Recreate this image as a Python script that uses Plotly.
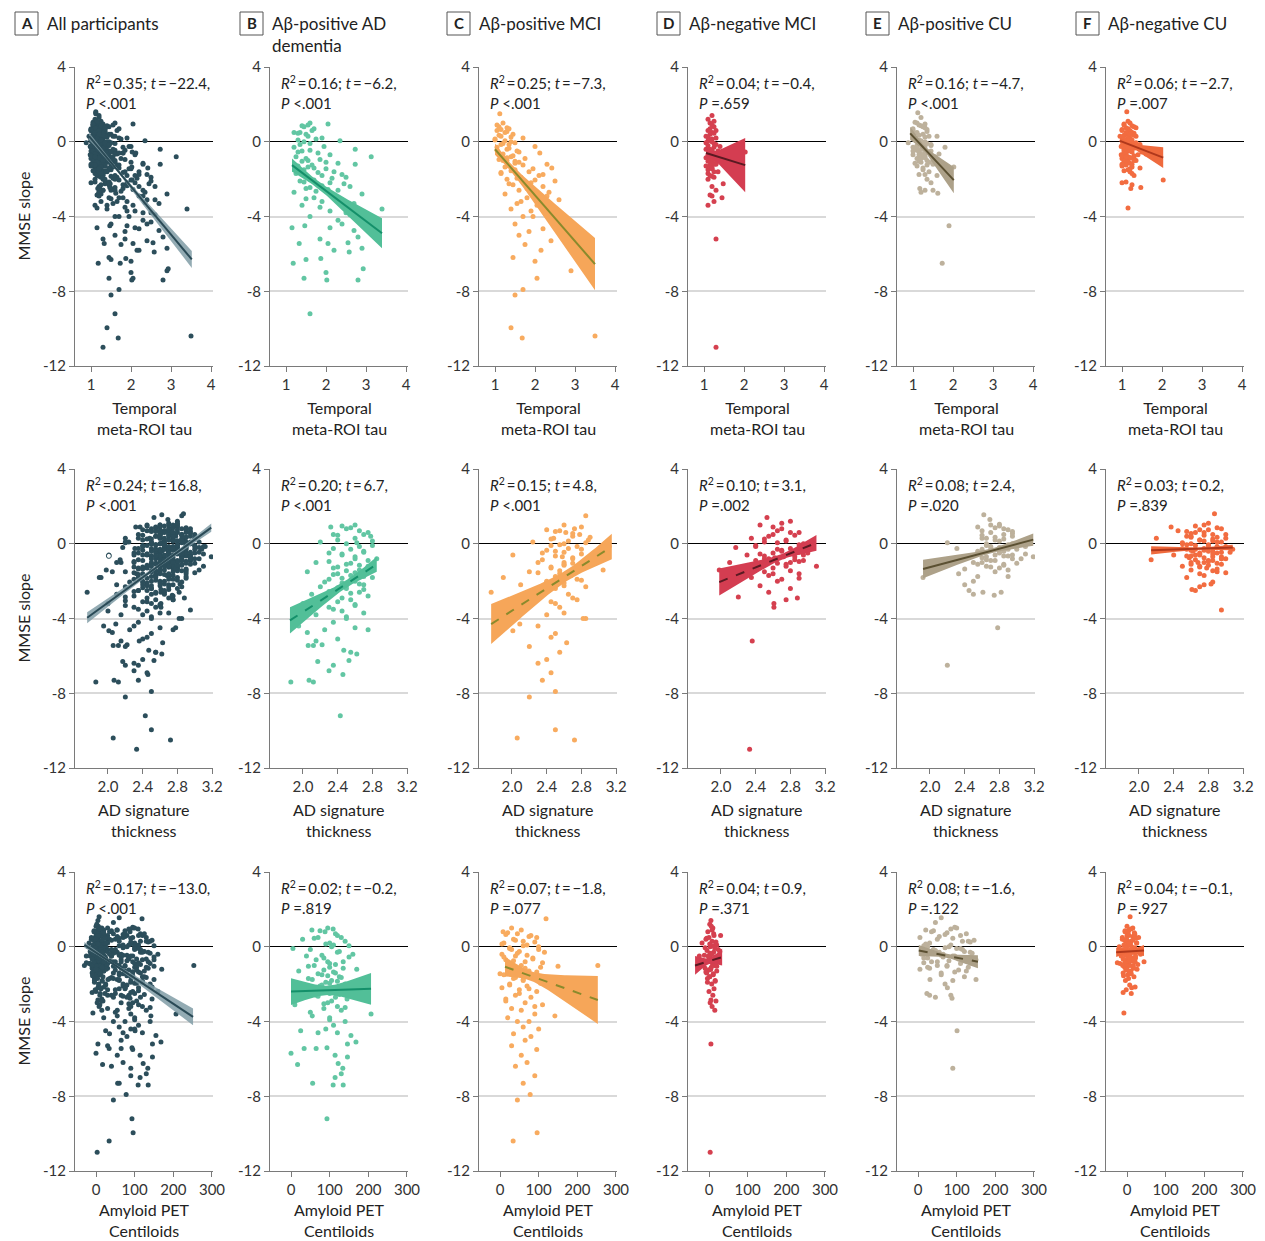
import math
import plotly.graph_objects as go

# ------------------------------------------------------------------ data
# Each group: MMSE slope (y, shared by all three rows), temporal meta-ROI tau,
# AD signature thickness, amyloid PET centiloids (None = not shown)

B_MMSE = [1.0, 0.95, 0.9, 0.8, 0.7, 0.5, 0.5, 0.4, 0.2, 0.05,
          0.1, -0.1, -0.3, -0.4, -0.5, -0.6, -0.8, -0.8, -1.0, -1.1,
          -1.2, -1.3, -1.4, -1.5, -1.6, -1.7, -1.8, -1.9, -2.0, -2.1,
          -2.2, -2.3, -2.4, -2.5, -2.6, -2.7, -2.8, -3.0, -3.1, -3.2,
          -3.3, -3.4, -3.6, -3.7, -3.8, -4.0, -4.2, -4.4, -4.5, -4.6,
          -4.6, -4.75, -5.1, -5.2, -5.4, -5.45, -5.45, -5.7, -5.8, -5.9,
          -6.25, -6.3, -6.5, -6.8, -7.0, -7.3, -7.4, -7.4, -9.2,
          0.85, 0.6, 0.45, 0.3, 0.15, 0.0, -0.15, -0.25, -0.45, -0.55,
          -0.7, -0.9, -0.95, -1.05, -1.15, -1.25, -1.35, -1.45, -1.55, -1.65,
          -1.75, -1.85, -1.95, -2.05, -2.15, -2.25, -2.35, -2.45, -2.55, -2.65,
          -2.9, -3.05, -3.25, -3.5, -3.9]
B_TAU = [1.6, 2.05, 1.55, 1.45, 1.7, 1.2, 1.35, 1.5, 1.9, 2.35,
         1.3, 1.6, 1.2, 2.73, 1.4, 1.8, 3.13, 1.25, 1.55, 2.0,
         2.73, 1.3, 1.7, 1.45, 2.2, 1.25, 1.9, 2.5, 1.6, 1.35,
         2.1, 1.8, 2.6, 1.5, 2.3, 1.2, 2.9, 1.7, 2.4, 1.9,
         2.7, 1.4, 3.4, 2.1, 2.5, 1.6, 2.3, 2.4, 1.47, 2.1,
         1.15, 2.7, 2.8, 1.85, 2.55, 1.33, 2.05, 2.9, 2.2, 2.58,
         1.87, 1.5, 1.18, 2.93, 2.0, 1.45, 2.02, 2.8, 1.6,
         1.4, 1.65, 1.3, 1.55, 1.75, 1.45, 1.35, 1.95, 1.6, 1.3,
         2.1, 1.5, 1.85, 1.4, 2.3, 1.65, 1.55, 2.0, 1.35, 1.8,
         2.4, 1.5, 2.15, 1.7, 1.45, 2.45, 1.9, 1.6, 2.05, 1.75,
         2.2, 1.5, 2.35, 1.85, 2.6]
B_THICK = [2.6, 2.45, 2.32, 2.5, 2.65, 2.7, 2.35, 2.78, 2.4, 2.62,
           2.2, 2.8, 2.55, 2.7, 2.3, 2.45, 2.85, 2.6, 2.15, 2.5,
           2.75, 2.35, 2.65, 2.05, 2.4, 2.55, 2.8, 2.3, 2.6, 2.45,
           2.7, 2.2, 2.5, 2.35, 2.65, 2.1, 2.75, 2.55, 2.4, 2.0,
           2.6, 2.3, 2.45, 2.7, 2.15, 2.5, 2.35, 1.95, 2.6, 2.25,
           2.75, 2.05, 2.4, 2.15, 2.22, 2.06, 2.12, 2.47, 2.55, 2.62,
           2.53, 2.17, 2.35, 2.3, 2.46, 2.07, 1.86, 2.12, 2.43,
           2.55, 2.75, 2.4, 2.6, 2.8, 2.5, 2.65, 2.35, 2.7, 2.45,
           2.6, 2.75, 2.3, 2.55, 2.65, 2.4, 2.8, 2.5, 2.6, 2.35,
           2.7, 2.45, 2.55, 2.25, 2.65, 2.5, 2.4, 2.7, 2.3, 2.55,
           2.45, 2.2, 2.6, 2.35, 2.5]
B_CL = [95, 109, 54, 88, 115, 70, 130, 30, 100, 150,
        110, 5, 120, 160, 40, 85, 135, 95, 60, 100,
        170, 20, 115, 80, 125, 45, 105, 90, 140, 75,
        110, 30, 160, 100, 65, 115, 145, 95, 10, 120,
        85, 130, 207, 55, 100, 140, 110, 90, 25, 120,
        70, 155, 168, 146, 93, 65, 34, 0, 114, 146,
        122, 17, 134, 130, 114, 56, 109, 135, 93,
        75, 120, 60, 140, 90, 105, 50, 125, 80, 150,
        65, 100, 115, 45, 135, 85, 110, 70, 95, 130,
        55, 120, 100, 80, 145, 60, 110, 90, 125, 70,
        105, 85, 140, 50, 100]

C_MMSE = [1.5, 0.8, 0.75, 0.7, 0.6, 0.5, 0.4, 0.3, 0.2, 0.1,
          0.0, -0.1, -0.25, -0.3, -0.4, -0.5, -0.6, -0.7, -0.8, -0.9,
          -1.0, -1.1, -1.2, -1.3, -1.4, -1.5, -1.6, -1.7, -1.8, -1.9,
          -2.0, -2.1, -2.2, -2.3, -2.4, -2.6, -2.7, -2.8, -3.0, -3.1,
          -3.3, -3.4, -3.6, -3.8, -4.0, -4.0, -4.3, -4.4, -4.65, -4.8,
          -5.0, -5.3, -5.5, -5.8, -6.2, -6.4, -6.9, -7.3, -7.9, -8.2,
          -9.95, -10.4, -10.5, -1.0, -3.7, -1.05, -0.15,
          1.0, 0.9, 0.65, 0.55, 0.35, 0.25, 0.15, 0.05, -0.05, -0.15,
          -0.35, -0.45, -0.55, -0.65, -0.75, -0.85, -0.95, -1.15, -1.25, -1.35,
          -1.45, -1.55, -1.65, -1.75, -1.95, -2.05, -2.25, -2.5, -2.9, -3.2]
C_TAU = [1.12, 1.1, 1.3, 1.35, 1.05, 1.25, 1.45, 1.15, 1.7, 1.0,
         1.4, 1.2, 2.0, 1.05, 1.3, 1.55, 2.12, 1.1, 1.4, 1.75,
         1.2, 1.6, 2.3, 1.35, 2.42, 1.5, 1.85, 1.15, 2.1, 1.65,
         1.3, 2.5, 1.9, 1.45, 2.2, 1.6, 2.35, 1.25, 1.8, 2.6,
         1.55, 2.05, 1.4, 2.3, 1.7, 1.95, 2.5, 1.5, 2.2, 1.85,
         1.6, 2.4, 1.75, 2.15, 1.45, 2.0, 2.9, 2.05, 1.7, 1.5,
         1.4, 3.5, 1.68, 1.3, 1.9, 1.5, 1.35,
         1.2, 1.05, 1.15, 1.3, 1.1, 1.4, 1.0, 1.25, 1.5, 1.15,
         1.35, 1.05, 1.6, 1.2, 1.45, 1.3, 1.1, 1.5, 1.7, 1.25,
         1.95, 1.4, 1.15, 2.2, 1.55, 2.0, 1.35, 1.8, 2.3, 1.65]
C_THICK = [2.85, 2.72, 2.4, 2.55, 2.62, 2.78, 2.7, 2.48, 2.88, 2.24,
           2.6, 2.45, 2.65, 2.8, 2.5, 2.35, 2.01, 2.58, 2.7, 2.95,
           2.3, 2.6, 2.8, 2.45, 3.05, 2.2, 2.55, 2.68, 1.9, 2.75,
           2.4, 2.6, 2.1, 2.85, 2.5, 1.76, 2.65, 2.3, 2.75, 2.45,
           2.2, 2.55, 2.0, 2.4, 2.85, 2.82, 2.09, 2.3, 2.01, 2.5,
           2.45, 2.63, 2.2, 2.55, 2.4, 2.3, 2.45, 2.35, 2.5, 2.2,
           2.5, 2.06, 2.72, 2.6, 2.6, 2.7, 3.12,
           2.6, 2.8, 2.5, 2.7, 2.9, 2.45, 2.65, 2.85, 2.55, 2.75,
           2.4, 2.6, 2.8, 2.5, 2.7, 2.35, 2.9, 2.6, 2.45, 2.75,
           2.55, 2.3, 2.65, 2.5, 2.8, 2.4, 2.6, 2.35, 2.7, 2.5]
C_CL = [119, 8, 20, 45, 80, 95, 35, 60, 10, 70,
        100, 25, 50, 115, 5, 40, 85, 15, 65, 30,
        55, 105, 20, 75, 45, 10, 90, 35, 60, 120,
        25, 70, 5, 50, 95, 40, 80, 15, 65, 110,
        30, 55, 90, 20, 75, 45, 60, 100, 35, 80,
        65, 30, 95, 55, 70, 40, 90, 60, 78, 45,
        96, 34, None, 253, 142, 150, 30,
        30, 55, 15, 75, 40, 90, 5, 60, 25, 100,
        45, 70, 10, 85, 35, 110, 20, 65, 50, 95,
        0, 80, 40, 60, 105, 25, 75, 50, 15, 90]

D_MMSE = [1.4, 1.2, 1.0, 0.8, 0.6, 0.5, 0.3, 0.2, 0.1, 0.0,
          -0.2, -0.3, -0.4, -0.5, -0.55, -0.6, -0.7, -0.8, -0.9, -1.0,
          -1.0, -1.2, -1.3, -1.4, -1.5, -1.6, -1.8, -1.9, -2.0, -2.25,
          -2.4, -2.6, -2.85, -2.9, -3.0, -3.2, -3.4, -5.2, -11.0,
          0.9, 0.4, -0.1, -0.35, -0.45, -0.65, -0.75, -0.85, -1.1, -1.15,
          -0.25, -0.6, 0.05, -1.25, -0.95,
          0.7, 0.45, 0.25, 0.15, -0.05, -0.15, -0.4, -0.5, -0.7, -0.8,
          -0.9, -1.05, -1.2, -1.35, -1.45, -1.6, -1.7, -1.85, 1.1, 0.6]
D_TAU = [1.2, 1.1, 1.15, 1.25, 1.1, 1.2, 1.05, 1.3, 1.15, 1.2,
         1.1, 1.25, 1.05, 1.35, 2.03, 1.15, 1.2, 1.1, 1.3, 1.6,
         1.15, 1.25, 1.05, 1.2, 1.1, 1.35, 1.15, 1.25, 1.1, 1.48,
         1.2, 1.3, 1.15, 1.2, 1.45, 1.25, 1.1, 1.3, 1.3,
         1.2, 1.15, 1.25, 1.1, 1.2, 1.3, 1.15, 1.05, 1.2, 1.3,
         1.4, 1.8, 1.1, 1.15, 1.25,
         1.15, 1.25, 1.1, 1.2, 1.05, 1.3, 1.15, 1.2, 1.1, 1.25,
         1.2, 1.1, 1.3, 1.15, 1.2, 1.25, 1.1, 1.2, 1.25, 1.3]
D_THICK = [2.53, 2.8, 2.45, 2.7, 2.9, 2.6, 2.35, 2.75, 2.5, 2.95,
           2.17, 2.65, 2.85, 3.0, 2.45, 2.3, 2.72, 2.55, 2.4, 2.8,
           2.1, 3.1, 2.6, 1.98, 2.5, 2.9, 2.35, 2.7, 2.65, 2.45,
           2.8, 2.55, 2.2, 2.88, 2.75, 2.61, 2.61, 2.36, 2.33,
           2.6, 2.55, 2.4, 2.7, 2.9, 2.5, 2.62, 2.85, 2.75, 2.45,
           2.8, 2.95, 2.65, 2.3, 2.9,
           2.65, 2.85, 2.5, 2.75, 2.9, 2.4, 2.7, 2.6, 2.85, 2.5,
           2.95, 2.65, 2.75, 2.35, 2.8, 2.6, 2.55, 2.9, 2.7, 2.8]
D_CL = [5, 2, 10, -3, 30, 0, 8, -18, 20, 3,
        -5, 12, 6, -25, 18, 0, 25, -2, 9, 14,
        -30, 4, 20, -6, 11, 2, 16, -4, 7, 13,
        0, 10, 5, 18, 3, 8, 15, 5, 3,
        8, -8, 15, 3, -12, 22, -1, 10, 6, -10,
        28, 4, 12, 0, 17,
        12, -6, 18, 2, -10, 24, 7, -2, 15, 9,
        -14, 20, 4, -8, 11, 1, -4, 16, 6, 13]

E_MMSE = [1.55, 1.3, 1.05, 0.9, 0.75, 0.6, 0.5, 0.4, 0.3, 0.2,
          0.1, 0.05, -0.05, -0.1, -0.2, -0.25, -0.3, -0.35, -0.4, -0.5,
          -0.55, -0.6, -0.7, -0.75, -0.8, -0.9, -1.0, -1.1, -1.2, -1.35,
          -1.5, -1.6, -1.75, -1.75, -1.8, -2.0, -2.2, -2.5, -2.6, -2.6,
          -2.7, -2.75, -4.5, -6.5,
          0.85, 0.45, 0.0, -0.15, -0.45, -0.65, -0.85, -1.05, 0.25, -0.3,
          -1.3, 0.65,
          1.0, 0.8, 0.7, 0.55, 0.35, 0.15, 0.0, -0.1, -0.2, -0.3,
          -0.4, -0.5, -0.6, -0.7, -0.8, -0.9, -1.0, -1.15, -1.25, -1.4,
          0.95, 0.3, -0.15, -0.65, -1.1]
E_TAU = [1.12, 1.2, 1.05, 1.15, 1.3, 1.0, 1.1, 1.25, 1.4, 1.0,
         1.15, 1.2, 0.88, 1.35, 1.1, 1.3, 1.8, 1.05, 1.2, 1.45,
         1.15, 1.3, 1.0, 1.25, 1.55, 1.1, 1.35, 1.2, 1.5, 2.02,
         1.25, 1.4, 1.3, 1.15, 1.6, 1.35, 1.45, 1.17, 1.3, 1.5,
         1.2, 1.62, 1.9, 1.73,
         1.2, 1.05, 1.15, 1.25, 1.1, 1.2, 1.3, 1.15, 1.3, 1.0,
         1.1, 1.35,
         1.1, 1.25, 1.0, 1.35, 1.15, 1.05, 1.3, 1.2, 1.45, 1.1,
         1.25, 1.0, 1.4, 1.15, 1.3, 1.2, 1.5, 1.05, 1.35, 1.25,
         1.3, 1.6, 1.45, 1.65, 1.4]
E_THICK = [2.62, 2.69, 2.8, 2.55, 2.9, 2.7, 2.85, 2.95, 2.6, 2.75,
           3.05, 2.2, 2.9, 2.65, 2.8, 2.31, 3.0, 2.7, 2.85, 2.55,
           3.1, 2.75, 3.19, 2.6, 2.95, 2.7, 2.5, 2.85, 2.65, 2.4,
           2.75, 2.33, 2.55, 2.9, 1.92, 2.5, 2.4, 2.45, 2.61, 2.82,
           2.5, 2.74, 2.78, 2.2,
           2.75, 2.6, 2.95, 2.7, 2.8, 2.9, 2.65, 3.0, 2.85, 2.6,
           2.8, 2.95,
           2.7, 2.85, 2.6, 2.95, 2.75, 2.8, 2.65, 3.0, 2.7, 2.9,
           2.55, 2.8, 2.95, 2.65, 3.05, 2.75, 2.6, 2.85, 2.7, 2.9,
           2.8, 2.65, 3.1, 2.85, 2.55]
E_CL = [60, 45, 95, 20, 75, 110, 5, 50, 130, 30,
        85, 15, 70, 100, 40, 120, 55, 140, 10, 90,
        65, 25, 150, 80, 35, 110, 50, 130, 5, 95,
        60, 120, 31, 150, 90, 70, 76, 23, 30, 85,
        45, 88, 101, 90,
        40, 90, 25, 115, 60, 105, 15, 75, 135, 50,
        125, 70,
        100, 35, 125, 55, 145, 20, 80, 110, 45, 135,
        65, 95, 15, 120, 50, 140, 75, 30, 105, 60,
        85, 115, 40, 130, 25]

F_MMSE = [1.6, 1.0, 0.9, 0.8, 0.7, 0.6, 0.5, 0.4, 0.3, 0.3,
          0.2, 0.1, 0.0, -0.1, -0.2, -0.25, -0.3, -0.35, -0.4, -0.5,
          -0.55, -0.6, -0.7, -0.75, -0.8, -0.85, -0.9, -1.0, -1.1, -1.2,
          -1.3, -1.4, -1.5, -1.6, -1.8, -2.05, -2.15, -2.2, -2.3, -2.45,
          -2.5, -3.55, -0.45, -0.65,
          0.75, 0.55, 0.35, 0.15, -0.05, -0.15, -0.4, -0.6, -0.8, -1.0,
          -1.15, -0.3, 0.45, -0.9, -1.35, 0.05,
          1.1, 0.95, 0.85, 0.65, 0.6, 0.5, 0.35, 0.25, 0.2, 0.1,
          0.0, -0.05, -0.1, -0.2, -0.25, -0.35, -0.45, -0.5, -0.55, -0.65,
          -0.7, -0.75, -0.85, -0.95, -1.05, -1.1, -1.25, -1.45, -1.55, -1.7,
          0.75, 0.4, -0.15, -0.4, -0.6, -0.8, -1.0, 0.15, -0.3, -1.2]
F_TAU = [1.12, 1.2, 1.05, 1.3, 1.15, 1.0, 1.25, 1.1, 1.35, 0.95,
         1.2, 1.05, 1.15, 1.3, 1.0, 1.4, 1.1, 1.25, 1.05, 1.2,
         1.5, 1.1, 0.98, 1.3, 1.15, 1.2, 1.05, 1.35, 1.1, 1.25,
         1.0, 1.45, 1.15, 1.2, 1.3, 2.03, 1.1, 1.0, 1.25, 1.47,
         1.22, 1.15, 1.85, 1.6,
         1.1, 1.2, 1.05, 1.15, 1.25, 1.1, 1.2, 1.05, 1.3, 1.15,
         1.2, 1.35, 1.3, 1.0, 1.25, 1.0,
         1.15, 1.05, 1.25, 1.0, 1.2, 1.1, 1.3, 1.0, 1.15, 1.25,
         1.05, 1.35, 1.1, 1.2, 0.98, 1.3, 1.15, 1.05, 1.25, 1.1,
         1.4, 1.0, 1.2, 1.3, 1.05, 1.15, 1.1, 1.2, 1.05, 1.25,
         1.35, 1.2, 1.45, 1.55, 1.7, 1.1, 1.3, 1.05, 1.15, 1.0]
F_THICK = [2.87, 2.75, 2.37, 2.95, 2.45, 2.65, 2.85, 2.55, 3.0, 2.2,
           2.7, 2.9, 2.6, 2.8, 3.05, 2.5, 3.08, 2.75, 2.62, 2.9,
           2.7, 2.4, 2.85, 2.58, 3.0, 2.14, 2.8, 2.68, 2.95, 2.5,
           2.78, 2.6, 2.9, 2.7, 2.55, 2.85, 2.83, 2.75, 2.7, 2.61,
           2.65, 2.95, 2.95, 2.6,
           2.8, 2.6, 2.9, 2.75, 2.55, 3.0, 2.85, 2.7, 2.95, 2.6,
           2.8, 2.65, 2.75, 2.85, 2.9, 2.5,
           2.8, 2.65, 2.9, 2.55, 2.75, 3.0, 2.6, 2.85, 2.7, 2.95,
           2.5, 2.8, 2.65, 2.9, 2.75, 2.6, 3.05, 2.7, 2.85, 2.55,
           2.95, 2.75, 2.65, 2.8, 2.9, 2.6, 2.7, 2.85, 3.0, 2.75,
           2.7, 2.6, 2.9, 2.8, 2.65, 2.95, 2.75, 2.85, 2.55, 2.7]
F_CL = [8, 15, 5, -5, 20, 0, 30, -12, 10, -3,
        25, 2, -20, 12, 6, -8, 18, 0, 35, -15,
        8, 22, -2, 14, 44, -25, 4, 16, -6, 26,
        10, -10, 2, 18, -4, 7, 21, 12, -2, -10,
        11, -8, 5, 12,
        3, 15, -6, 9, 20, -10, 4, 13, -2, 8,
        17, -14, 24, -18, 6, 1,
        0, 10, -5, 20, 5, -12, 15, 2, 25, -8,
        12, -2, 18, 6, -15, 9, -4, 22, 3, -10,
        14, 7, -6, 28, 1, 16, -3, 11, -9, 4,
        19, -1, 13, -7, 8, 21, -11, 5, 17, 0]

# All participants = union of the five groups
A_MMSE = B_MMSE + C_MMSE + D_MMSE + E_MMSE + F_MMSE
A_TAU = B_TAU + C_TAU + D_TAU + E_TAU + F_TAU
A_THICK = B_THICK + C_THICK + D_THICK + E_THICK + F_THICK
A_CL = B_CL + C_CL + D_CL + E_CL + F_CL
A_OPEN_THICK = [2.01]
A_OPEN_MMSE = [-0.65]

# regression fits: [x_start, x_end, y_start, y_end, ci_half_start, ci_half_end, ci_half_min]
FIT_TAU = [[0.95, 3.52, 0.3, -6.3, 0.2, 0.45, 0.08],
           [1.15, 3.4, -1.25, -4.9, 0.35, 0.8, 0.2],
           [1.0, 3.5, -0.4, -6.55, 0.3, 1.4, 0.2],
           [1.05, 2.03, -0.6, -1.25, 0.3, 1.45, 0.2],
           [0.93, 2.02, 0.45, -2.05, 0.35, 0.7, 0.15],
           [0.95, 2.03, 0.05, -0.85, 0.15, 0.55, 0.08]]
FIT_THICK = [[1.76, 3.19, -3.96, 0.86, 0.3, 0.22, 0.08],
             [1.85, 2.85, -4.1, -1.1, 0.7, 0.4, 0.2],
             [1.76, 3.15, -4.3, -0.15, 1.07, 0.68, 0.3],
             [1.98, 3.1, -2.05, 0.05, 0.72, 0.42, 0.15],
             [1.92, 3.19, -1.35, 0.22, 0.5, 0.33, 0.12],
             [2.14, 3.08, -0.35, -0.2, 0.22, 0.15, 0.06]]
FIT_CL = [[-30, 251, 0.1, -3.75, 0.15, 0.45, 0.06],
          [0, 207, -2.4, -2.25, 0.72, 0.85, 0.25],
          [13, 253, -1.07, -2.85, 0.52, 1.28, 0.25],
          [-36, 34, -1.0, -0.55, 0.5, 0.45, 0.15],
          [2, 155, -0.2, -0.8, 0.3, 0.35, 0.1],
          [-28, 44, -0.3, -0.2, 0.25, 0.3, 0.08]]

STATS_TAU = ["R2=0.35; t=−22.4,|P <.001", "R2=0.16; t=−6.2,|P <.001",
             "R2=0.25; t=−7.3,|P <.001", "R2=0.04; t=−0.4,|P =.659",
             "R2=0.16; t=−4.7,|P <.001", "R2=0.06; t=−2.7,|P =.007"]
STATS_THICK = ["R2=0.24; t=16.8,|P <.001", "R2=0.20; t=6.7,|P <.001",
               "R2=0.15; t=4.8,|P <.001", "R2=0.10; t=3.1,|P =.002",
               "R2=0.08; t=2.4,|P =.020", "R2=0.03; t=0.2,|P =.839"]
STATS_CL = ["R2=0.17; t=−13.0,|P <.001", "R2=0.02; t=−0.2,|P =.819",
            "R2=0.07; t=−1.8,|P =.077", "R2=0.04; t=0.9,|P =.371",
            "R2 0.08; t=−1.6,|P =.122", "R2=0.04; t=−0.1,|P =.927"]

PANEL_LETTERS = ["A", "B", "C", "D", "E", "F"]
PANEL_TITLES = ["All participants", "Aβ-positive AD<br>dementia", "Aβ-positive MCI",
                "Aβ-negative MCI", "Aβ-positive CU", "Aβ-negative CU"]
X_TITLES = ["Temporal<br>meta-ROI tau", "AD signature<br>thickness", "Amyloid PET<br>Centiloids"]
X_TICKVALS = [[1, 2, 3, 4], [2.0, 2.4, 2.8, 3.2], [0, 100, 200, 300]]
X_TICKTEXT = [["1", "2", "3", "4"], ["2.0", "2.4", "2.8", "3.2"], ["0", "100", "200", "300"]]
Y_TICKVALS = [-12, -8, -4, 0, 4]
Y_TICKTEXT = ["-12", "-8", "-4", "0", "4"]
Y_TITLE = "MMSE slope"

# ------------------------------------------------------------------ style / layout
W, H = 1265, 1241
FONT = "Lato"
COL_L = [75, 270, 479, 688, 897, 1106]
PLOT_W = 138
ROW_T = [67, 469, 872]
ROW_B = [366, 768, 1171]
XTITLE_GAP = [30, 30, 27]
X_RANGES = [[0.6, 4.05], [1.62, 3.21], [-54.3, 302.6]]
HDR_X = [15, 240, 447, 657, 866, 1076]

PT_COLORS = ["#2c4e5b", "#62c6a3", "#f8ab5f", "#d5404f", "#bdb19c", "#f26c40"]
BAND_COLORS = ["rgba(128,156,166,0.85)", "#52bf98", "#f6a659", "#d43d51", "#ada189", "#ef6a3d"]
LINE_COLORS = ["#2a4a56", "#14906a", "#8a8a2c", "#5a1a22", "#5b5032", "#b0381c"]
DASH = [["solid"] * 6,
        ["solid", "dash", "dash", "dash", "solid", "solid"],
        ["solid", "solid", "dash", "dash", "dash", "solid"]]


def pxx(px):
    return px / W


def pxy(py):
    return 1 - py / H


def band(fit, n=60):
    x0, x1, y0, y1, w0, w1, wm = fit
    r = math.sqrt((w0 ** 2 - wm ** 2) / (w1 ** 2 - wm ** 2))
    xc = x0 + (x1 - x0) * r / (1 + r)
    k = (w1 ** 2 - wm ** 2) / (x1 - xc) ** 2
    xs = [x0 + (x1 - x0) * i / (n - 1) for i in range(n)]
    ys = [y0 + (y1 - y0) * (x - x0) / (x1 - x0) for x in xs]
    ws = [math.sqrt(wm ** 2 + k * (x - xc) ** 2) for x in xs]
    hi = [y + w for y, w in zip(ys, ws)]
    lo = [y - w for y, w in zip(ys, ws)]
    return xs, ys, hi, lo


def stats_html(s):
    a, b = s.split("|")
    a = a.replace("R2", "<i>R</i><sup>2</sup>").replace("t=", "<i>t</i>\u2009=\u2009")
    a = a.replace("</sup>=", "</sup>\u2009=\u2009")
    b = b.replace("P ", "<i>P</i> ").replace("<.", "&lt;.")
    return a + "<br>" + b


group_y = [A_MMSE, B_MMSE, C_MMSE, D_MMSE, E_MMSE, F_MMSE]
group_x = [[A_TAU, B_TAU, C_TAU, D_TAU, E_TAU, F_TAU],
           [A_THICK, B_THICK, C_THICK, D_THICK, E_THICK, F_THICK],
           [A_CL, B_CL, C_CL, D_CL, E_CL, F_CL]]
fits = [FIT_TAU, FIT_THICK, FIT_CL]
stats = [STATS_TAU, STATS_THICK, STATS_CL]

fig = go.Figure()
layout = {}
annotations = []
shapes = []

for r in range(3):
    for c in range(6):
        n = r * 6 + c + 1
        xs_name = "x" if n == 1 else f"x{n}"
        ys_name = "y" if n == 1 else f"y{n}"
        L = COL_L[c]
        layout["xaxis" if n == 1 else f"xaxis{n}"] = dict(
            domain=[pxx(L), pxx(L + PLOT_W)], anchor=ys_name,
            range=X_RANGES[r], tickvals=X_TICKVALS[r], ticktext=X_TICKTEXT[r],
            showgrid=False, zeroline=False, showline=True, linecolor="#7a7a7a", linewidth=1,
            ticks="outside", ticklen=5, tickcolor="#7a7a7a",
            tickfont=dict(family=FONT, size=15, color="#333"), fixedrange=True)
        layout["yaxis" if n == 1 else f"yaxis{n}"] = dict(
            domain=[pxy(ROW_B[r]), pxy(ROW_T[r])], anchor=xs_name,
            range=[-12, 4], tickvals=Y_TICKVALS, ticktext=Y_TICKTEXT,
            showgrid=True, gridcolor="#d9d9d9", gridwidth=2,
            zeroline=True, zerolinecolor="#000", zerolinewidth=1,
            showline=True, linecolor="#7a7a7a", linewidth=1,
            ticks="outside", ticklen=5, tickcolor="#7a7a7a",
            tickfont=dict(family=FONT, size=15, color="#333"), fixedrange=True)

        # points
        fig.add_trace(go.Scatter(
            x=group_x[r][c], y=group_y[c], xaxis=xs_name, yaxis=ys_name,
            mode="markers", marker=dict(size=5, color=PT_COLORS[c], line=dict(width=0)),
            hoverinfo="skip", showlegend=False))
        if r == 1 and c == 0:
            fig.add_trace(go.Scatter(
                x=A_OPEN_THICK, y=A_OPEN_MMSE, xaxis=xs_name, yaxis=ys_name,
                mode="markers",
                marker=dict(size=5, color="white", line=dict(width=1, color=PT_COLORS[0])),
                hoverinfo="skip", showlegend=False))

        # confidence band + fit line
        bx, by, bhi, blo = band(fits[r][c])
        fig.add_trace(go.Scatter(
            x=bx + bx[::-1], y=bhi + blo[::-1], xaxis=xs_name, yaxis=ys_name,
            mode="lines", fill="toself", fillcolor=BAND_COLORS[c],
            line=dict(width=0), hoverinfo="skip", showlegend=False))
        fig.add_trace(go.Scatter(
            x=[bx[0], bx[-1]], y=[by[0], by[-1]], xaxis=xs_name, yaxis=ys_name,
            mode="lines", line=dict(color=LINE_COLORS[c], width=2, dash=DASH[r][c]),
            hoverinfo="skip", showlegend=False))

        # statistics text
        annotations.append(dict(
            xref="paper", yref="paper", x=pxx(L + 9), y=pxy(ROW_T[r] + 4),
            xanchor="left", yanchor="top", align="left", showarrow=False,
            text=stats_html(stats[r][c]),
            font=dict(family=FONT, size=15, color="#222")))

        # x-axis title
        annotations.append(dict(
            xref="paper", yref="paper", x=pxx(L + PLOT_W / 2), y=pxy(ROW_B[r] + XTITLE_GAP[r]),
            xanchor="center", yanchor="top", align="center", showarrow=False,
            text=X_TITLES[r], font=dict(family=FONT, size=16, color="#222")))

    # y-axis title (first column only)
    annotations.append(dict(
        xref="paper", yref="paper", x=pxx(23), y=pxy((ROW_T[r] + ROW_B[r]) / 2),
        xanchor="center", yanchor="middle", textangle=-90, showarrow=False,
        text=Y_TITLE, font=dict(family=FONT, size=16, color="#222")))

# panel headers
for c in range(6):
    bx0 = HDR_X[c]
    shapes.append(dict(type="rect", xref="paper", yref="paper",
                       x0=pxx(bx0), x1=pxx(bx0 + 23), y0=pxy(35), y1=pxy(12),
                       line=dict(color="#555", width=1), fillcolor="white"))
    annotations.append(dict(
        xref="paper", yref="paper", x=pxx(bx0 + 11.5), y=pxy(23.5),
        xanchor="center", yanchor="middle", showarrow=False,
        text=f"<b>{PANEL_LETTERS[c]}</b>", font=dict(family=FONT, size=15, color="#222")))
    annotations.append(dict(
        xref="paper", yref="paper", x=pxx(bx0 + 30), y=pxy(11),
        xanchor="left", yanchor="top", align="left", showarrow=False,
        text=PANEL_TITLES[c], font=dict(family=FONT, size=17, color="#222")))

fig.update_layout(
    width=W, height=H, margin=dict(l=0, r=0, t=0, b=0, autoexpand=False),
    paper_bgcolor="white", plot_bgcolor="white",
    showlegend=False, annotations=annotations, shapes=shapes, **layout)

fig.write_html("out.html", config={"displayModeBar": False},
               post_script="document.body.style.margin='0';document.body.style.overflow='hidden';")
